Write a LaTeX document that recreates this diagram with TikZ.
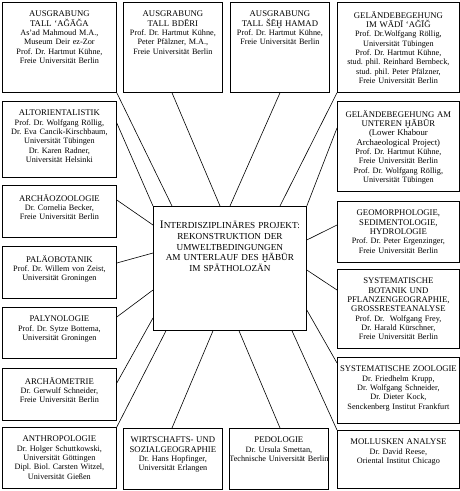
\documentclass[tikz,border=0pt]{standalone}
\usepackage{fontspec}
\setmainfont{Liberation Serif}
\usetikzlibrary{calc}
\newcommand\hd[1]{{\fontsize{8.7}{9.8}\selectfont #1}}
% one framed unit: name, left, top, right, bottom, text
\newcommand\projbox[6]{%
  \pgfmathsetmacro\bw{#4-#2}\pgfmathsetmacro\bh{#5-#3}\pgfmathsetmacro\tw{#4-#2+10}%
  \node[frame,anchor=north west,minimum width=\bw pt,minimum height=\bh pt] (#1) at (#2,#3) {};
  \node[entry,text width=\tw pt] (#1-txt) at ([yshift=-9pt]#1.north) {#6};}
\frenchspacing
\begin{document}
\begin{tikzpicture}[x=1pt,y=-1pt,
  frame/.style={rectangle,draw=black,line width=0.8pt,inner sep=0pt},
  entry/.style={anchor=north,align=center,inner sep=0pt,font=\fontsize{8.2}{9.3}\selectfont},
  link/.style={draw=black,line width=0.6pt}]
\useasboundingbox (0,0) rectangle (460,491);
% top row
\projbox{tall1}{2}{2}{116}{92}{\hd{AUSGRABUNG}\\\hd{TALL ‘AĞĀĞA}\\As’ad Mahmoud M.A.,\\Museum Deir ez-Zor\\Prof. Dr. Hartmut Kühne,\\Freie Universität Berlin}
\projbox{tall2}{123}{2}{222}{92}{\hd{AUSGRABUNG}\\\hd{TALL BDĒRI}\\Prof. Dr. Hartmut Kühne,\\Peter Pfälzner, M.A.,\\Freie Universität Berlin}
\projbox{tall3}{230}{2}{329}{92}{\hd{AUSGRABUNG}\\\hd{TALL ŠĒḪ HAMAD}\\Prof. Dr. Hartmut Kühne,\\Freie Universität Berlin}
\projbox{wadi}{337}{2}{459}{92}{\hd{GELÄNDEBEGEHUNG}\\\hd{IM WĀDĪ ‘AĞĪĞ}\\Prof. Dr.Wolfgang Röllig,\\Universität Tübingen\\Prof. Dr. Hartmut Kühne,\\stud. phil. Reinhard Bernbeck,\\stud. phil. Peter Pfälzner,\\Freie Universität Berlin}
% left column
\projbox{altor}{2}{101}{116}{177}{\hd{ALTORIENTALISTIK}\\Prof. Dr. Wolfgang Röllig,\\Dr. Eva Cancik-Kirschbaum,\\Universität Tübingen\\Dr. Karen Radner,\\Universität Helsinki}
\projbox{azoo}{2}{185}{116}{237}{\hd{ARCHÄOZOOLOGIE}\\Dr. Cornelia Becker,\\Freie Universität Berlin}
\projbox{pbot}{2}{246}{116}{298}{\hd{PALÄOBOTANIK}\\Prof. Dr. Willem von Zeist,\\Universität Groningen}
\projbox{palyn}{2}{307}{116}{358}{\hd{PALYNOLOGIE}\\Prof. Dr. Sytze Bottema,\\Universität Groningen}
\projbox{ametr}{2}{368}{116}{420}{\hd{ARCHÄOMETRIE}\\Dr. Gerwulf Schneider,\\Freie Universität Berlin}
\projbox{anthr}{2}{427}{116}{488}{\hd{ANTHROPOLOGIE}\\Dr. Holger Schuttkowski,\\Universität Göttingen\\Dipl. Biol. Carsten Witzel,\\Universität Gießen}
% bottom row
\projbox{wigeo}{123}{428}{222}{489}{\hd{WIRTSCHAFTS- UND}\\\hd{SOZIALGEOGRAPHIE}\\Dr. Hans Hopfinger,\\Universität Erlangen}
\projbox{pedo}{229}{428}{328}{489}{\hd{PEDOLOGIE}\\Dr. Ursula Smettan,\\Technische Universität Berlin}
\projbox{moll}{337}{430}{459}{488}{\hd{MOLLUSKEN ANALYSE}\\Dr. David Reese,\\Oriental Institut Chicago}
% right column
\projbox{unter}{337}{101}{459}{191}{\hd{GELÄNDEBEGEHUNG AM}\\\hd{UNTEREN ḪĀBŪR}\\\hd{(Lower Khabour}\\\hd{Archaeological Project)}\\Prof. Dr. Hartmut Kühne,\\Freie Universität Berlin\\Prof. Dr. Wolfgang Röllig,\\Universität Tübingen}
\projbox{geom}{337}{201}{459}{262}{\hd{GEOMORPHOLOGIE,}\\\hd{SEDIMENTOLOGIE,}\\\hd{HYDROLOGIE}\\Prof. Dr. Peter Ergenzinger,\\Freie Universität Berlin}
\projbox{sbot}{337}{269}{459}{348}{\hd{SYSTEMATISCHE}\\\hd{BOTANIK UND}\\\hd{PFLANZENGEOGRAPHIE,}\\\hd{GROSSRESTEANALYSE}\\Prof. Dr.~ Wolfgang Frey,\\Dr. Harald Kürschner,\\Freie Universität Berlin}
\projbox{szoo}{337}{357}{459}{423}{\hd{SYSTEMATISCHE ZOOLOGIE}\\Dr. Friedhelm Krupp,\\Dr. Wolfgang Schneider,\\Dr. Dieter Kock,\\Senckenberg Institut Frankfurt}
% central project
\node[frame,anchor=north west,minimum width=153pt,minimum height=124pt] (ctr) at (153,206) {};
\node[entry,text width=150pt,font=\fontsize{9.2}{10.7}\selectfont] (ctr-txt) at ([yshift=-15pt]ctr.north)
  {{\fontsize{11.5}{10.7}\selectfont I}NTERDISZIPLINÄRES PROJEKT:\\REKONSTRUKTION DER\\UMWELTBEDINGUNGEN\\AM UNTERLAUF DES ḪĀBŪR\\IM SPÄTHOLOZÄN};
% connectors
\draw[link] (tall1.south east) -- ([xshift=19pt]ctr.north west);
\draw[link] ([xshift=49pt]tall2.south west) -- ([xshift=67pt]ctr.north west);
\draw[link] ([xshift=50pt]tall3.south west) -- ([xshift=77pt]ctr.north west);
\draw[link] (wadi.south west) -- ([xshift=127pt]ctr.north west);
\draw[link] ([yshift=-27pt]unter.north west) -- (ctr.north east);
\draw[link] ([yshift=-22pt]altor.north east) -- (ctr.north west);
\draw[link] ([yshift=-15pt]azoo.north east) -- ([yshift=-19pt]ctr.north west);
\draw[link] ([yshift=-17pt]pbot.north east) -- ([yshift=-47pt]ctr.north west);
\draw[link] ([yshift=-10pt]palyn.north east) -- ([yshift=-84pt]ctr.north west);
\draw[link] ([yshift=-15pt]ametr.north east) -- ([yshift=-112pt]ctr.north west);
\draw[link] (anthr.north east) -- ([xshift=13pt]ctr.south west);
\draw[link] ([xshift=49pt]wigeo.north west) -- ([xshift=60pt]ctr.south west);
\draw[link] ([xshift=51pt]pedo.north west) -- ([xshift=86pt]ctr.south west);
\draw[link] (moll.north west) -- ([xshift=139pt]ctr.south west);
\draw[link] ([yshift=-6pt]szoo.north west) -- ([yshift=-104pt]ctr.north east);
\draw[link] ([yshift=-21pt]sbot.north west) -- ([yshift=-64pt]ctr.north east);
\draw[link] ([yshift=-24pt]geom.north west) -- ([yshift=-34pt]ctr.north east);
\end{tikzpicture}
\end{document}
